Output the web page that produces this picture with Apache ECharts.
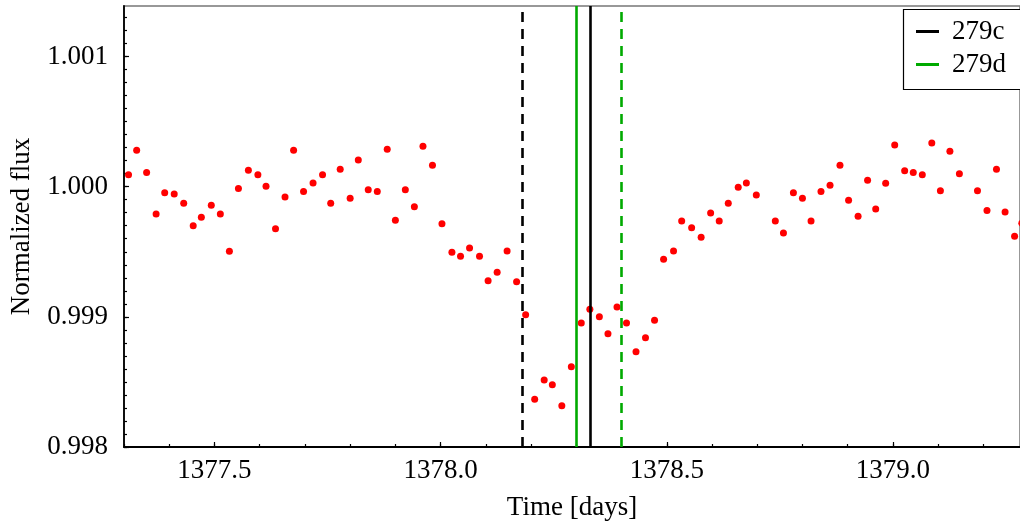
<!DOCTYPE html>
<html>
<head>
<meta charset="utf-8">
<script src="https://cdn.jsdelivr.net/npm/echarts@6/dist/echarts.min.js"></script>
<style>
html,body{margin:0;padding:0;background:#fff;}
#chart{width:1020px;height:527px;}
</style>
</head>
<body>
<div id="chart"></div>
<script>
// ---- data ----
const time = [1377.310,1377.328,1377.350,1377.371,1377.390,1377.411,1377.432,1377.453,1377.471,1377.493,
1377.513,1377.533,1377.553,1377.575,1377.596,1377.614,1377.635,1377.656,1377.675,1377.697,
1377.718,1377.739,1377.757,1377.778,1377.800,1377.818,1377.840,1377.860,1377.882,1377.900,
1377.922,1377.942,1377.961,1377.982,1378.003,1378.025,1378.044,1378.064,1378.086,1378.105,
1378.125,1378.147,1378.168,1378.188,1378.208,1378.229,1378.247,1378.268,1378.289,1378.311,
1378.330,1378.351,1378.370,1378.390,1378.411,1378.432,1378.453,1378.473,1378.493,1378.515,
1378.533,1378.555,1378.576,1378.597,1378.616,1378.636,1378.658,1378.676,1378.698,1378.740,
1378.758,1378.780,1378.800,1378.819,1378.841,1378.861,1378.883,1378.902,1378.923,1378.944,
1378.962,1378.984,1379.004,1379.026,1379.045,1379.065,1379.086,1379.105,1379.126,1379.147,
1379.187,1379.208,1379.229,1379.248,1379.269,1379.285];
const flux = [1.000092,1.000280,1.000108,0.999790,0.999954,0.999944,0.999872,0.999700,0.999765,0.999857,
0.999790,0.999503,0.999985,1.000126,1.000092,1.000003,0.999677,0.999921,1.000280,0.999962,
1.000028,1.000092,0.999872,1.000134,0.999911,1.000205,0.999977,0.999962,1.000287,0.999742,
0.999977,0.999846,1.000311,1.000164,0.999716,0.999496,0.999466,0.999529,0.999465,0.999277,
0.999342,0.999506,0.999270,0.999016,0.998366,0.998514,0.998478,0.998317,0.998616,0.998952,
0.999058,0.999001,0.998870,0.999075,0.998952,0.998732,0.998839,0.998974,0.999442,0.999506,
0.999736,0.999685,0.999611,0.999798,0.999736,0.999872,0.999995,1.000028,0.999936,0.999736,
0.999644,0.999954,0.999911,0.999736,0.999962,1.000011,1.000164,0.999895,0.999772,1.000049,
0.999829,1.000026,1.000321,1.000123,1.000108,1.000092,1.000336,0.999969,1.000272,1.000100,
0.999969,0.999816,1.000134,0.999806,0.999619,0.999719];

const planetNames = ['279c', '279d'];
const planetColors = ['#000000', '#00aa00'];
const transitSolid = [1378.331, 1378.300];
const transitDashed = [1378.180, 1378.404];

const xTickLabels = [1377.5, 1378.0, 1378.5, 1379.0];
const yTickLabels = [0.998, 0.999, 1.000, 1.001];
const xRange = [1377.3, 1379.281];
const yRange = [0.998, 1.001388];

// minor tick positions (every 0.1 day, every 0.0001 in flux)
const xMinor = [];
for (let i = 0; i <= 19; i++) xMinor.push(+(1377.3 + i * 0.1).toFixed(1));
const yMinor = [];
for (let i = 0; i <= 33; i++) yMinor.push(+(0.998 + i * 0.0001).toFixed(4));

const FONT = 'Liberation Serif';

const scatterData = time.map((t, i) => [t, flux[i]]);

const lineSeries = planetNames.map((n, i) => ({
  name: n,
  type: 'line',
  xAxisIndex: 0, yAxisIndex: 0,
  data: [],
  symbol: 'none',
  z: 5,
  itemStyle: { color: planetColors[i] },
  lineStyle: { color: planetColors[i], width: 2.5 },
  markLine: {
    silent: true,
    symbol: 'none',
    animation: false,
    label: { show: false },
    lineStyle: { color: planetColors[i], width: 2.6 },
    data: [
      { xAxis: transitSolid[i], lineStyle: { type: 'solid', color: planetColors[i], width: 2.6 } },
      { xAxis: transitDashed[i], lineStyle: { type: [10, 7], color: planetColors[i], width: 2.6 } }
    ]
  }
}));

const chart = echarts.init(document.getElementById('chart'));
chart.setOption({
  animation: false,
  backgroundColor: '#fff',
  grid: {
    left: 124, top: 6, right: 0, height: 441,
    show: true, borderColor: '#777', borderWidth: 1.5, backgroundColor: 'transparent'
  },
  graphic: [{
    type: 'rect', z: 20, silent: true,
    shape: { x: 903.5, y: 9.5, width: 140, height: 80 },
    style: { fill: '#fff', stroke: '#000', lineWidth: 1.2 }
  }],
  legend: {
    data: planetNames,
    orient: 'vertical',
    left: 903, top: 9,
    z: 30,
    icon: 'rect',
    itemWidth: 23, itemHeight: 3,
    itemGap: 6,
    padding: [9, 20, 10, 13],
    backgroundColor: 'transparent',
    borderWidth: 0,
    textStyle: { fontFamily: FONT, fontSize: 27, color: '#000', lineHeight: 27, padding: [0, 0, 0, 8] }
  },
  xAxis: [{
    type: 'value', min: xRange[0], max: xRange[1],
    name: 'Time [days]', nameLocation: 'middle', nameGap: 47,
    nameTextStyle: { fontFamily: FONT, fontSize: 27, color: '#000' },
    axisLine: { show: true, lineStyle: { color: '#000', width: 1.8 } },
    axisTick: { show: true, inside: true, length: 5, customValues: xTickLabels, lineStyle: { color: '#000', width: 1.2 } },
    axisLabel: { customValues: xTickLabels, formatter: v => v.toFixed(1), fontFamily: FONT, fontSize: 27, color: '#000', margin: 10 },
    splitLine: { show: false }
  }, {
    type: 'value', min: xRange[0], max: xRange[1], position: 'bottom',
    axisLine: { show: false },
    axisTick: { show: true, inside: true, length: 3, customValues: xMinor, lineStyle: { color: '#000', width: 1.2 } },
    axisLabel: { show: false },
    splitLine: { show: false }
  }],
  yAxis: [{
    type: 'value', min: yRange[0], max: yRange[1],
    name: 'Normalized flux', nameLocation: 'middle', nameGap: 89, nameRotate: 90,
    nameTextStyle: { fontFamily: FONT, fontSize: 27, color: '#000' },
    axisLine: { show: true, lineStyle: { color: '#000', width: 1.8 } },
    axisTick: { show: true, inside: true, length: 5, customValues: yTickLabels, lineStyle: { color: '#000', width: 1.2 } },
    axisLabel: { customValues: yTickLabels, formatter: v => v.toFixed(3), fontFamily: FONT, fontSize: 27, color: '#000', margin: 16 },
    splitLine: { show: false }
  }, {
    type: 'value', min: yRange[0], max: yRange[1], position: 'left',
    axisLine: { show: false },
    axisTick: { show: true, inside: true, length: 3, customValues: yMinor, lineStyle: { color: '#000', width: 1.2 } },
    axisLabel: { show: false },
    splitLine: { show: false }
  }],
  series: [{
    name: 'data',
    type: 'scatter',
    xAxisIndex: 0, yAxisIndex: 0,
    data: scatterData,
    clip: false,
    symbol: 'circle',
    symbolSize: 7,
    itemStyle: { color: '#ff0000', opacity: 1 },
    z: 2
  }].concat(lineSeries)
});
</script>
</body>
</html>
